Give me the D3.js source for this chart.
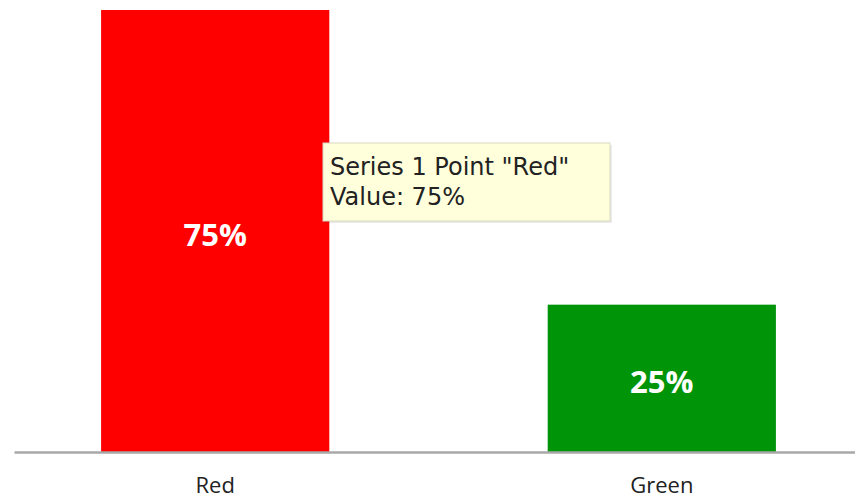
<html><head>
<title>Bar chart</title>
<script src="https://d3js.org/d3.v7.min.js"></script>
<style>
  body { margin: 0; background: white; }
  .cat { font-family: 'Open Sans'; font-size: 22px; fill: #222; }
  .val { font-family: 'Open Sans'; font-weight: 700; font-size: 31px; fill: white; }
  .tip { font-family: 'DejaVu Sans'; font-size: 24px; fill: #222; }
</style>
</head>
<body>
<svg id="chart" width="855" height="498"></svg>
<script>

const categories = ["Red", "Green"];
const values = [75, 25];
const colors = ["#ff0000", "#009408"];
const seriesName = "Series 1";
const hovered = 0;

const svg = d3.select("#chart");

const x = d3.scaleBand().domain(categories).range([14, 863])
            .paddingInner(0.489).paddingOuter(0.195);
const y = d3.scaleLinear().domain([0, 75]).range([452, 10]);

// bars
svg.selectAll("rect.bar").data(categories)
   .join("rect")
   .attr("class", "bar")
   .attr("x", d => x(d))
   .attr("y", (d, i) => y(values[i]))
   .attr("width", x.bandwidth())
   .attr("height", (d, i) => y(0) - y(values[i]))
   .attr("fill", (d, i) => colors[i]);

// value labels inside bars
svg.selectAll("text.val").data(categories)
   .join("text")
   .attr("class", "val")
   .attr("text-anchor", "middle")
   .attr("x", d => x(d) + x.bandwidth() / 2)
   .attr("y", (d, i) => (y(values[i]) + y(0)) / 2 + 15)
   .text((d, i) => values[i] + "%");

// baseline axis
const bottomAxis = d3.axisBottom(x).tickSize(0).tickPadding(24);
const ax = svg.append("g")
   .attr("transform", `translate(0,${y(0)})`)
   .call(bottomAxis);
ax.select(".domain").attr("stroke", "#a8a8a8").attr("stroke-width", 2.5);
ax.selectAll("text").attr("class", "cat").attr("font-family", null)
  .attr("font-size", null).attr("fill", null).attr("dy", "0.75em");
ax.attr("font-family", null).attr("font-size", null);

// tooltip
const tip = svg.append("g").attr("transform", "translate(323,143)");
tip.append("rect")
   .attr("x", 2).attr("y", 2)
   .attr("width", 287).attr("height", 78)
   .attr("fill", "#000").attr("opacity", 0.08);
tip.append("rect")
   .attr("width", 287).attr("height", 78)
   .attr("fill", "#ffffdc")
   .attr("stroke", "#d8d8c0").attr("stroke-width", 1);
tip.append("text").attr("class", "tip")
   .attr("x", 7).attr("y", 32)
   .text(`${seriesName} Point "${categories[hovered]}"`);
tip.append("text").attr("class", "tip")
   .attr("x", 7).attr("y", 62)
   .text(`Value: ${values[hovered]}%`);

</script>
</body>
</html>
